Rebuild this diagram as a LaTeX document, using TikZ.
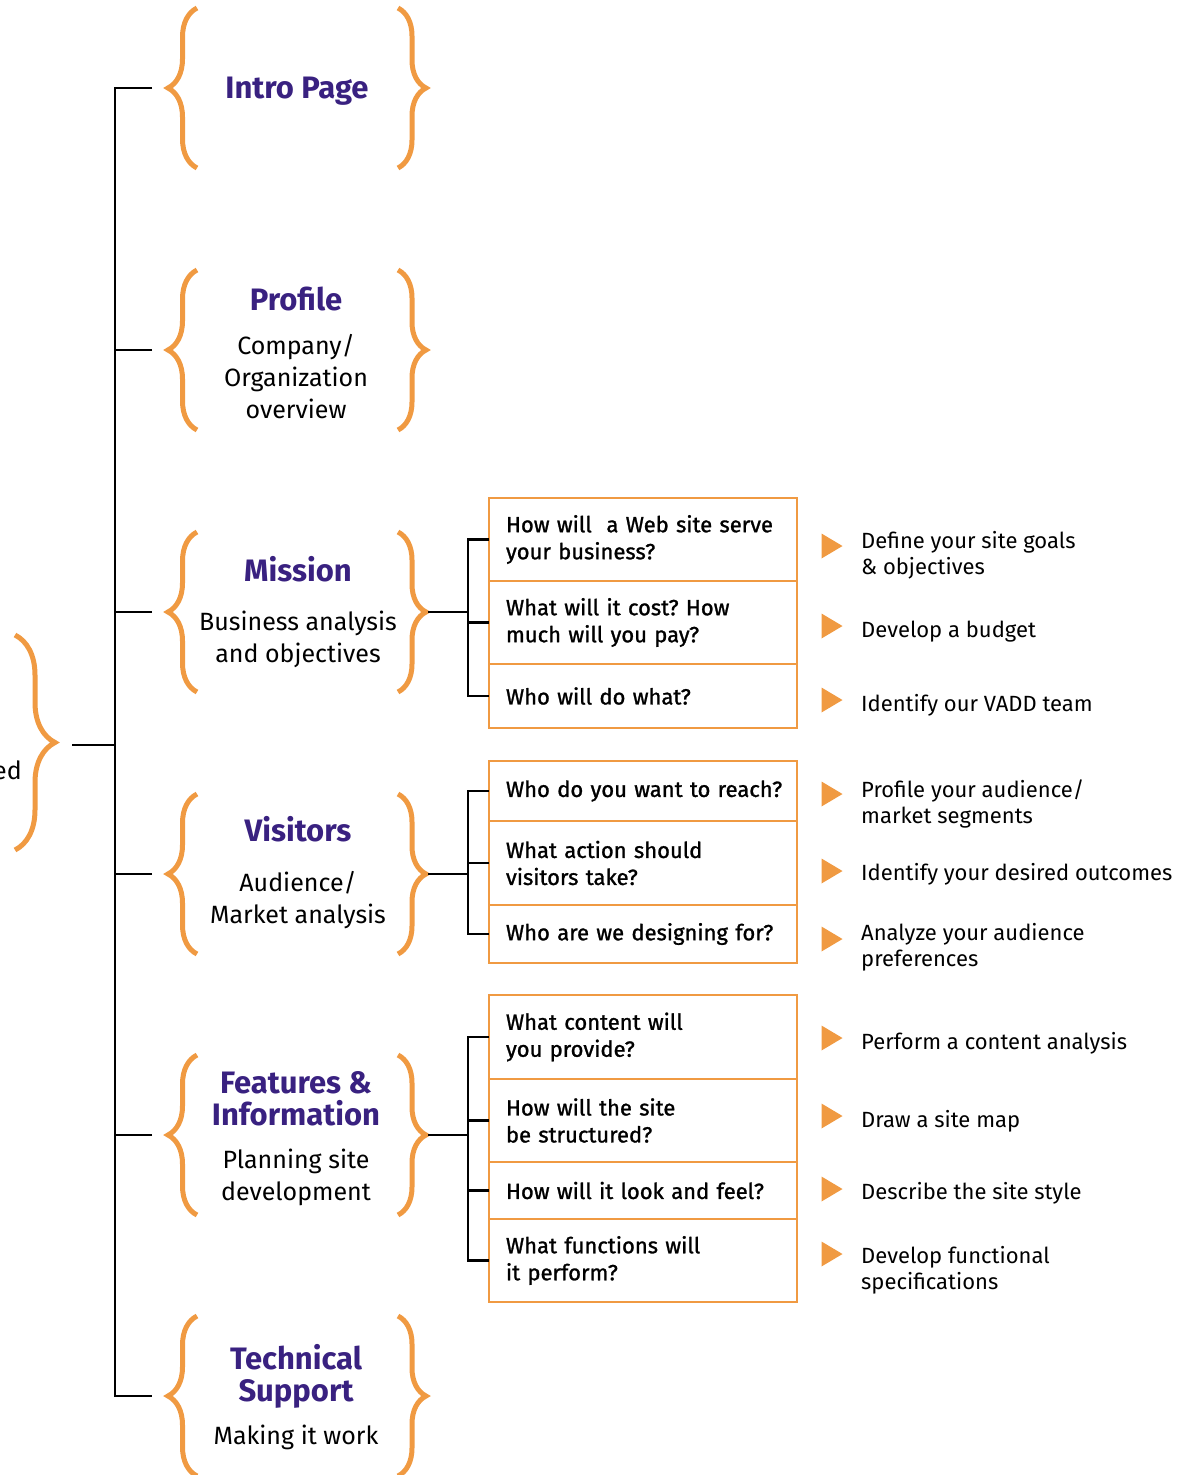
\documentclass[tikz,border=0pt]{standalone}
\usepackage{fontspec}
\setmainfont{Fira Sans}
\newfontfamily\qfont{Fira Sans}[FakeBold=1.2]
\usetikzlibrary{positioning,decorations.pathreplacing}
\definecolor{bracecol}{RGB}{240,154,66}
\definecolor{headcol}{RGB}{57,33,128}
\frenchspacing

\begin{document}
\begin{tikzpicture}[x=1pt, y=-1pt,
    lbrace/.style={draw=bracecol, line width=5pt, decorate, decoration={brace, amplitude=29pt}},
    rbrace/.style={lbrace, decoration={brace, amplitude=28pt}},
    stem/.style={draw, line width=2.6pt},
    head/.style={anchor=base, inner sep=0pt, align=center, text=headcol, font=\fontsize{31}{32}\selectfont\bfseries},
    sub/.style={anchor=base, inner sep=0pt, align=center, font=\fontsize{25}{32}\selectfont},
    qrow/.style={draw=bracecol, line width=2.6pt, outer sep=0pt, inner xsep=17pt, inner ysep=0pt, text width=274pt, align=left, font=\qfont\fontsize{22}{27}\selectfont},
    act/.style={anchor=base west, inner sep=0pt, align=left, font=\fontsize{22}{26.5}\selectfont},
    marker/.pic={\fill[bracecol] (-10.5,-12.5) -- (10.5,0) -- (-10.5,12.5) -- cycle;},
    node distance=0pt,
]
    \useasboundingbox (0,0) rectangle (1193,1475);

    % root
    \node[sub, anchor=base east] (root) at (22,779) {ed};
    \draw[lbrace, decoration={brace, amplitude=40pt}] (15,635) -- (15,850);
    \coordinate (rootR) at (72,745);
    \coordinate (trunk) at (115,0);

    % the six sections
    \foreach \c [count=\i] in {88,350,612,874,1135,1396} {
        \draw[lbrace] (197,\c+80) -- (197,\c-80);
        \draw[rbrace] (398,\c-80) -- (398,\c+80);
        \coordinate (bl\i) at (152,\c);
        \coordinate (br\i) at (428,\c);
    }
    % (base of a multi-line node = its last line)
    \node[head] (intro) at (297,98) {Intro Page};
    \node[head] (profile) at (296,310) {Profile};
    \node[sub] (profile-sub) at (296,418) {Company/\\Organization\\overview};
    \node[head] (mission) at (298,581) {Mission};
    \node[sub] (mission-sub) at (298,662) {Business analysis\\and objectives};
    \node[head] (visitors) at (298,841) {Visitors};
    \node[sub] (visitors-sub) at (298,923) {Audience/\\Market analysis};
    \node[head] (features) at (296,1125) {Features \&\\Information};
    \node[sub] (features-sub) at (296,1200) {Planning site\\development};
    \node[head] (technical) at (296,1401) {Technical\\Support};
    \node[sub] (technical-sub) at (296,1444) {Making it work};

    % trunk
    \draw[stem] (rootR) -- (rootR -| trunk);
    \draw[stem] (bl1) -- ++(-37,0) |- (bl6);
    \foreach \i in {2,...,5}
        \draw[stem] (bl\i) -- ++(-37,0);

    % question boxes
    \node[qrow, anchor=north west, minimum height=83pt] (m1) at (489,498) {How will~ a Web site serve\\your business?};
    \node[qrow, below=of m1, minimum height=83pt] (m2) {What will it cost? How\\much will you pay?};
    \node[qrow, below=of m2, minimum height=64pt] (m3) {Who will do what?};

    \node[qrow, anchor=north west, minimum height=60pt] (v1) at (489,761) {\mbox{Who do you want to reach?}};
    \node[qrow, below=of v1, minimum height=84pt] (v2) {What action should\\visitors take?};
    \node[qrow, below=of v2, minimum height=58pt] (v3) {Who are we designing for?};

    \node[qrow, anchor=north west, minimum height=84pt] (f1) at (489,995) {What content will\\you provide?};
    \node[qrow, below=of f1, minimum height=83pt] (f2) {How will the site\\be structured?};
    \node[qrow, below=of f2, minimum height=57pt] (f3) {How will it look and feel?};
    \node[qrow, below=of f3, minimum height=83pt] (f4) {What functions will\\it perform?};

    % brackets
    \draw[stem] (br3) -- ++(40,0);
    \draw[stem] (m1.west) -- ++(-21,0) |- (m3.west);
    \draw[stem] (m2.west) -- ++(-21,0);
    \draw[stem] (br4) -- ++(40,0);
    \draw[stem] (v1.west) -- ++(-21,0) |- (v3.west);
    \draw[stem] (v2.west) -- ++(-21,0);
    \draw[stem] (br5) -- ++(40,0);
    \draw[stem] (f1.west) -- ++(-21,0) |- (f4.west);
    \draw[stem] (f2.west) -- ++(-21,0);
    \draw[stem] (f3.west) -- ++(-21,0);

    % actions
    \foreach \t/\b/\txt [count=\i] in {
        546/574.5/{Define your site goals\\\& objectives},
        626/637/{Develop a budget},
        700/711/{Identify our VADD team},
        794/823.5/{Profile your audience/\\market segments},
        871/880/{Identify your desired outcomes},
        939/966.5/{Analyze your audience\\preferences},
        1038/1049/{Perform a content analysis},
        1116/1127/{Draw a site map},
        1189/1199/{Describe the site style},
        1254/1289.5/{Develop functional\\specifications}} {
        \pic at (832,\t) {marker};
        \node[act] (act\i) at (861,\b) {\txt};
    }
\end{tikzpicture}
\end{document}
